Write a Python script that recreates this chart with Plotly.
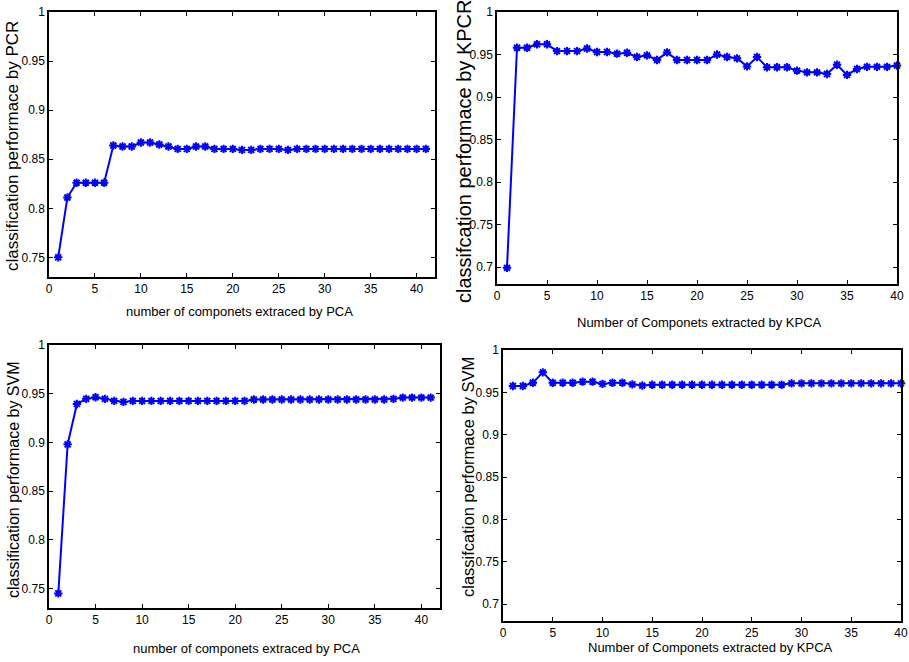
import plotly.graph_objects as go

W, H = 909, 662

# Panel 1: PCR vs number of PCA components
x_pcr = list(range(1, 42))
y_pcr = [0.750, 0.811, 0.826, 0.826, 0.826, 0.826, 0.864, 0.863, 0.863, 0.867,
         0.867, 0.865, 0.863, 0.8605, 0.8605, 0.863, 0.863, 0.8605, 0.8605, 0.8605,
         0.8595, 0.8595, 0.8605, 0.8605, 0.8605, 0.8595, 0.8605, 0.8605, 0.8605, 0.8605,
         0.8605, 0.8605, 0.8605, 0.8605, 0.8605, 0.8605, 0.8605, 0.8605, 0.8605, 0.8605,
         0.8605]

# Panel 2: KPCR vs number of KPCA components
x_kpcr = list(range(1, 41))
y_kpcr = [0.699, 0.958, 0.958, 0.962, 0.962, 0.954, 0.954, 0.954, 0.957, 0.953,
          0.953, 0.951, 0.952, 0.947, 0.949, 0.9435, 0.9525, 0.9435, 0.9435, 0.9435,
          0.9435, 0.950, 0.947, 0.9455, 0.936, 0.947, 0.935, 0.935, 0.935, 0.931,
          0.929, 0.929, 0.927, 0.938, 0.926, 0.933, 0.9355, 0.9355, 0.9355, 0.937]

# Panel 3: SVM vs number of PCA components
x_svm_pca = list(range(1, 42))
y_svm_pca = [0.745, 0.898, 0.9395, 0.9447, 0.9464, 0.9447, 0.9426, 0.9416, 0.9426, 0.9426,
             0.9426, 0.9426, 0.9426, 0.9426, 0.9426, 0.9426, 0.9426, 0.9426, 0.9426, 0.9426,
             0.9426, 0.944, 0.944, 0.944, 0.944, 0.944, 0.944, 0.944, 0.944, 0.944,
             0.944, 0.944, 0.944, 0.944, 0.944, 0.944, 0.9447, 0.946, 0.946, 0.946,
             0.946]

# Panel 4: SVM vs number of KPCA components
x_svm_kpca = list(range(1, 41))
y_svm_kpca = [0.9575, 0.9575, 0.9614, 0.9736, 0.9614, 0.9614, 0.9614, 0.9626, 0.9626, 0.960,
              0.9614, 0.9614, 0.9594, 0.958, 0.959, 0.959, 0.959, 0.959, 0.959, 0.959,
              0.959, 0.959, 0.959, 0.959, 0.959, 0.959, 0.959, 0.959, 0.9606, 0.9606,
              0.9606, 0.9606, 0.9606, 0.9606, 0.9606, 0.9606, 0.9606, 0.9606, 0.9606, 0.9606]

x_ticks = [0, 5, 10, 15, 20, 25, 30, 35, 40]
y_ticks_a = [0.75, 0.8, 0.85, 0.9, 0.95, 1]
y_ticks_b = [0.7, 0.75, 0.8, 0.85, 0.9, 0.95, 1]

panels = [
    # (x, y, px-left, px-right, px-top, px-bottom, xrange, yrange, yticks)
    (x_pcr, y_pcr, 49, 435, 12, 277, [0, 42], [0.73, 1], y_ticks_a),
    (x_kpcr, y_kpcr, 497, 897, 12, 284, [0, 40], [0.68, 1], y_ticks_b),
    (x_svm_pca, y_svm_pca, 49, 440, 345, 608, [0, 42], [0.73, 1], y_ticks_a),
    (x_svm_kpca, y_svm_kpca, 503, 901, 350, 621, [0, 40], [0.68, 1], y_ticks_b),
]

FONT = "Liberation Sans"
BLUE = "#0000FF"

fig = go.Figure()
layout = dict(
    width=W, height=H, margin=dict(l=0, r=0, t=0, b=0, autoexpand=False),
    paper_bgcolor="white", plot_bgcolor="white", showlegend=False,
    font=dict(family=FONT, size=12, color="black"),
)

for i, (xs, ys, l, r, t, b, xr, yr, yt) in enumerate(panels, start=1):
    xa = "x" if i == 1 else f"x{i}"
    ya = "y" if i == 1 else f"y{i}"
    fig.add_trace(go.Scatter(
        x=xs, y=ys, xaxis=xa, yaxis=ya, mode="lines+markers", cliponaxis=False,
        line=dict(color=BLUE, width=2),
        marker=dict(symbol="asterisk-open", size=7, color=BLUE,
                    line=dict(color=BLUE, width=2)),
    ))
    common = dict(showgrid=False, zeroline=False, showline=True, linecolor="black",
                  linewidth=1.5, mirror="ticks", ticks="inside", ticklen=4,
                  tickcolor="black", automargin=False,
                  tickfont=dict(family=FONT, size=12, color="black"))
    layout["xaxis" if i == 1 else f"xaxis{i}"] = dict(
        domain=[l / W, r / W], range=xr, tickvals=x_ticks,
        anchor=ya, **common)
    layout["yaxis" if i == 1 else f"yaxis{i}"] = dict(
        domain=[1 - b / H, 1 - t / H], range=yr, tickvals=yt,
        ticktext=[("%g" % v) for v in yt],
        anchor=xa, **common)

fig.update_layout(**layout)

titles = [
    # text, x px, y px, angle, size
    ("number of componets extraced by PCA", 240, 311, 0, 13),
    ("Number of Componets extracted by KPCA", 699, 322, 0, 13),
    ("number of componets extraced by PCA", 247, 648, 0, 13),
    ("Number of Componets extracted by KPCA", 710, 647, 0, 13),
    ("classification performace by PCR", 12, 146, -90, 17),
    ("classifcation performace by KPCR", 464, 152, -90, 20),
    ("classification performace by SVM", 13, 480, -90, 16),
    ("classifcation performace by SVM", 468, 477, -90, 16.5),
]
for text, xp, yp, ang, sz in titles:
    fig.add_annotation(text=text, x=xp / W, y=1 - yp / H, xref="paper", yref="paper",
                       showarrow=False, textangle=ang, xanchor="center", yanchor="middle",
                       font=dict(family=FONT, size=sz, color="black"))

fig.write_html("out.html", config={"displayModeBar": False},
               post_script="document.body.style.margin='0';document.body.style.overflow='hidden';")
